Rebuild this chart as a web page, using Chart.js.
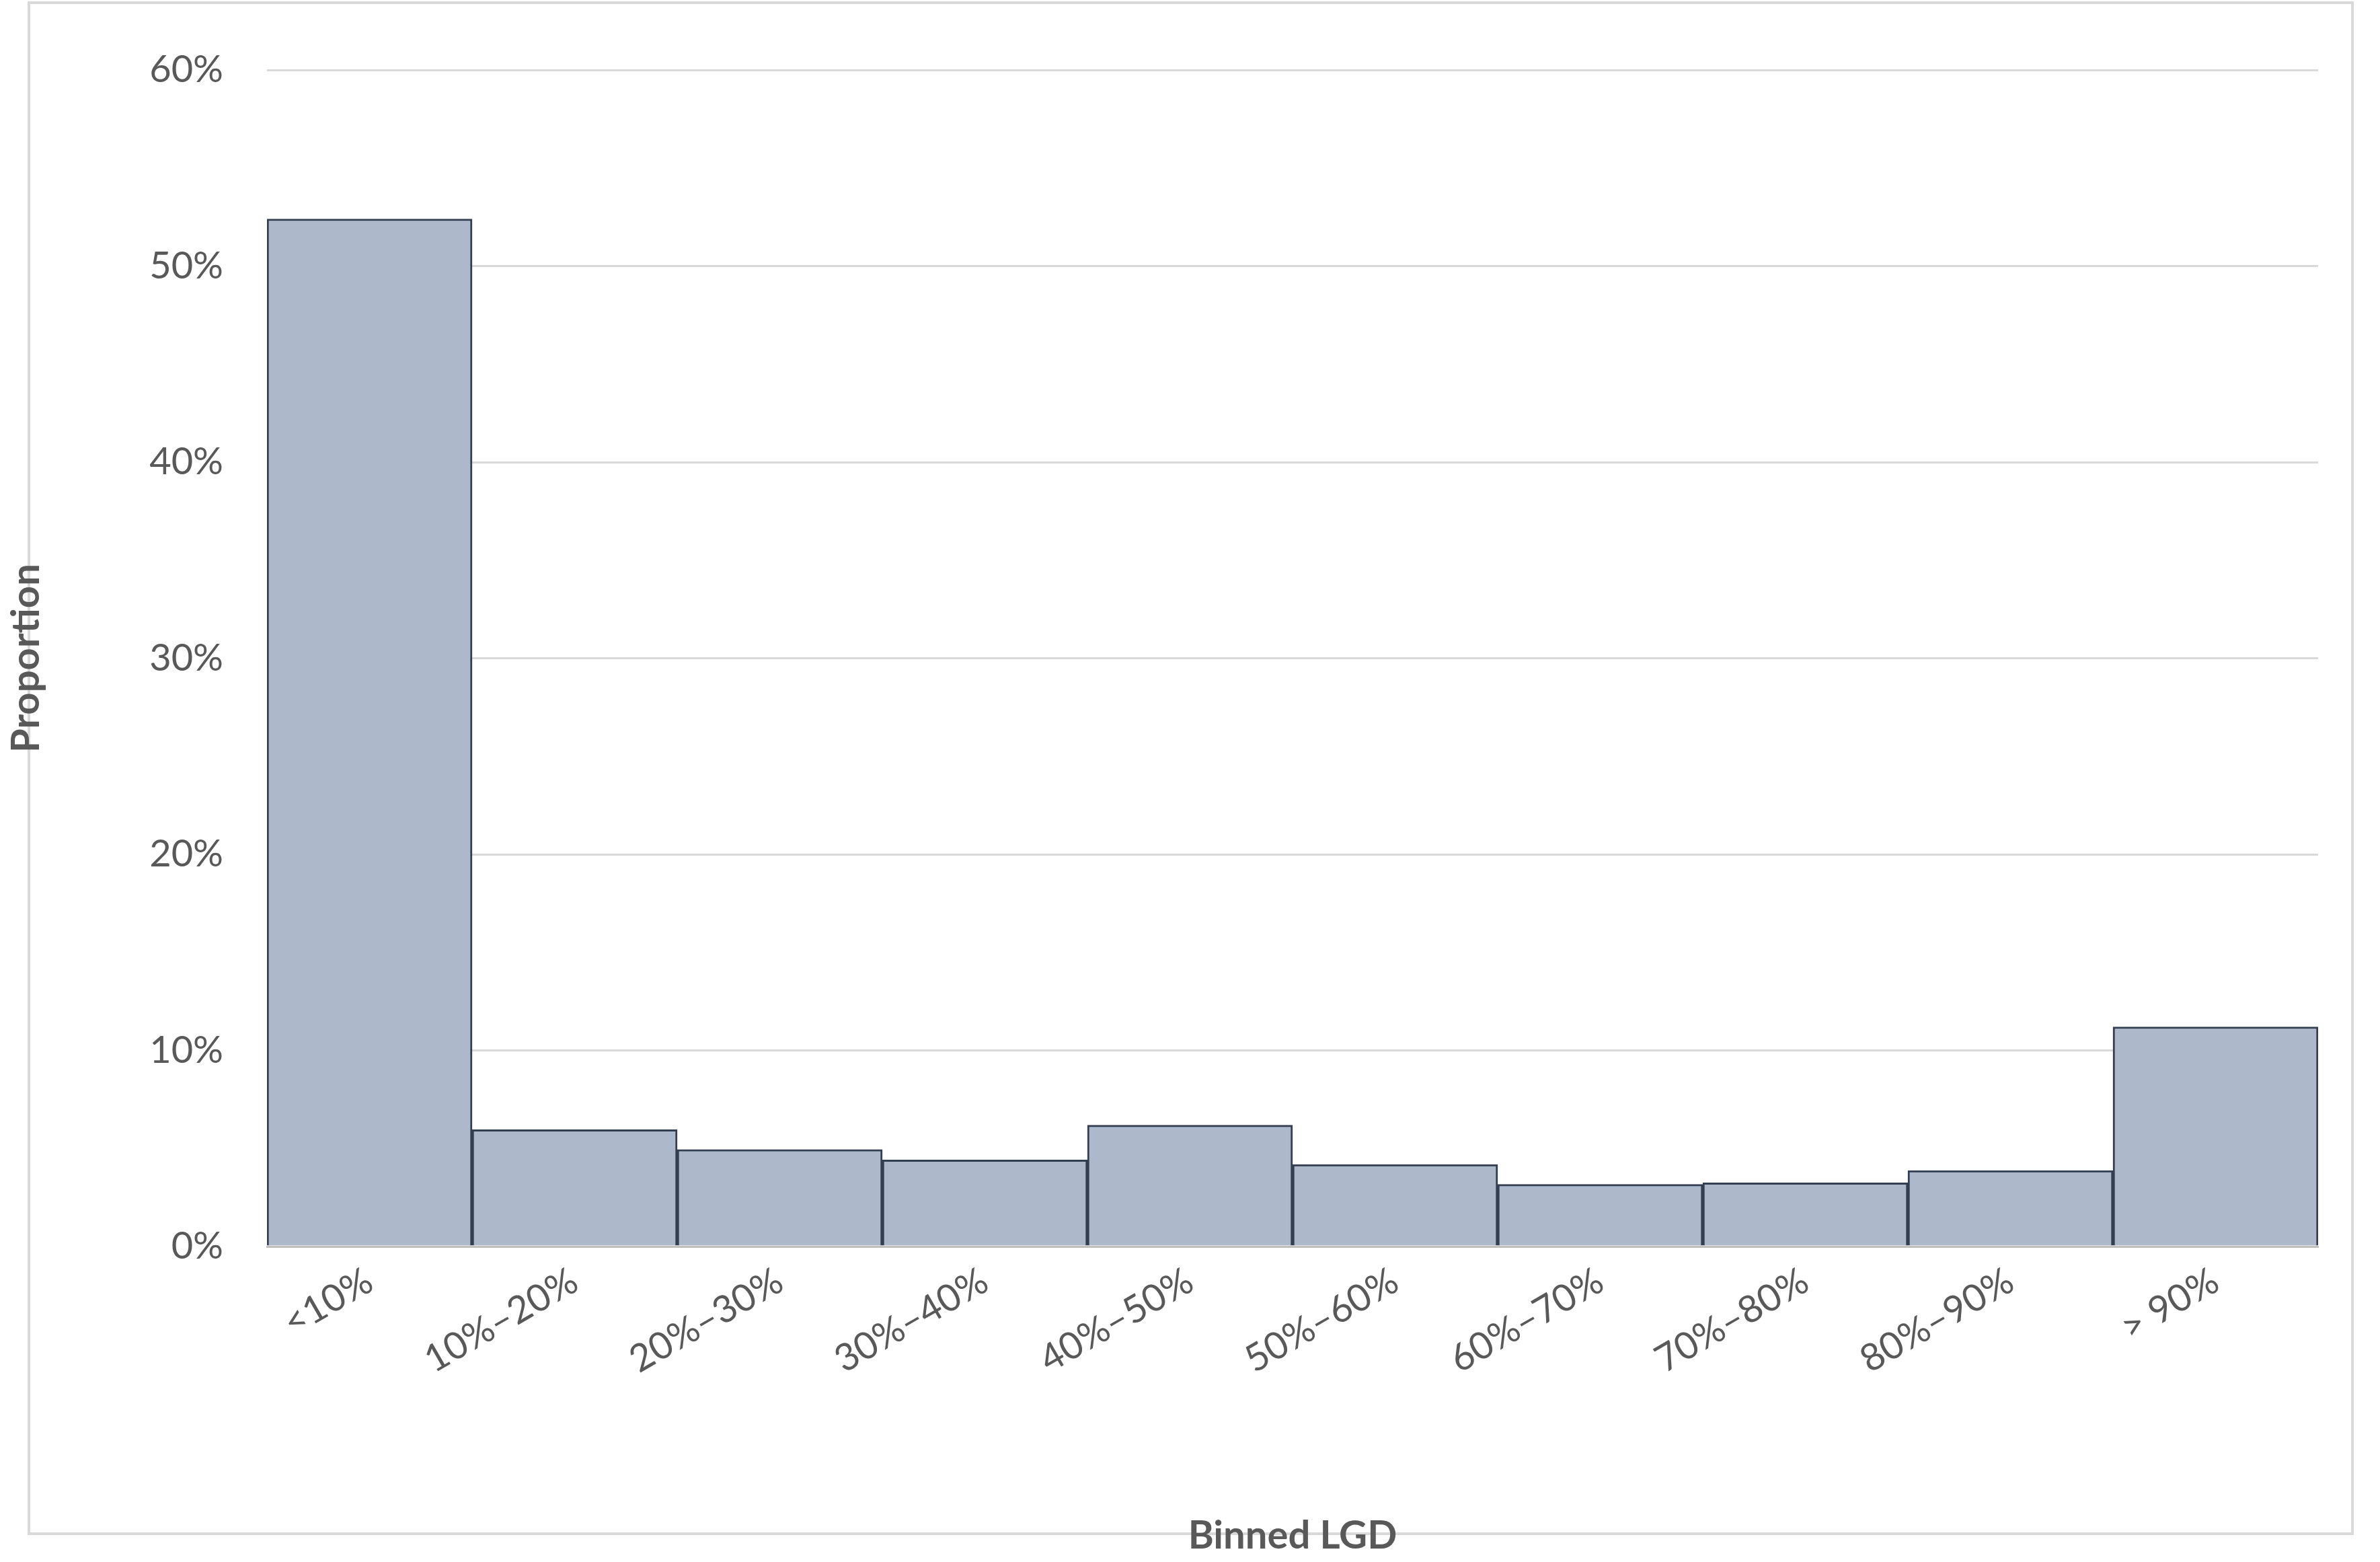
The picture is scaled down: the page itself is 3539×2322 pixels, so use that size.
<!DOCTYPE html>
<html><head><meta charset="utf-8">
<script src="https://cdn.jsdelivr.net/npm/chart.js@4/dist/chart.umd.min.js"></script>
<style>html,body{margin:0;padding:0;background:#fff}#w{position:absolute;left:0;top:0;width:3539px;height:2322px}</style>
</head><body><div id="w"><canvas id="c"></canvas></div>
<script>
const categories = ["<10%","10%–20%","20%–30%","30%–40%","40%–50%","50%–60%","60%–70%","70%–80%","80%–90%","> 90%"];
const proportions = [52.4, 5.96, 4.95, 4.41, 6.19, 4.18, 3.17, 3.25, 3.87, 11.2];
const yTicks = [0,10,20,30,40,50,60];
const FONT = "Lato, 'Open Sans', sans-serif";
const frame = {id:'frame', beforeDraw(ch){const c=ch.ctx;c.save();c.fillStyle='#fff';c.fillRect(0,0,ch.width,ch.height);c.strokeStyle='#d9d9d9';c.lineWidth=4;c.strokeRect(43,4,3455,2276);c.restore();}};
new Chart(document.getElementById('c'),{
  type:'bar',
  data:{labels:categories,datasets:[{data:proportions,backgroundColor:'#adb9ca',borderColor:'#333f50',borderWidth:3,barPercentage:1,categoryPercentage:1,borderSkipped:'bottom'}]},
  options:{responsive:true,maintainAspectRatio:false,animation:false,devicePixelRatio:1,
    layout:{padding:{top:104,right:92,left:0,bottom:0}},
    plugins:{legend:{display:false},tooltip:{enabled:false}},
    scales:{
      x:{grid:{display:false},border:{color:'#bfbfbf',width:3},
        ticks:{color:'#595959',font:{family:FONT,size:56},minRotation:30,maxRotation:30,padding:10},
        title:{display:true,text:'Binned LGD',color:'#595959',font:{family:FONT,size:58,weight:'bold'},padding:{top:0}},
        afterFit(s){s.height=469;}},
      y:{min:0,max:60,afterBuildTicks(s){s.ticks=yTicks.map(v=>({value:v}));},
        grid:{color:'#d9d9d9',lineWidth:3,drawTicks:false},border:{display:false},
        ticks:{color:'#595959',font:{family:FONT,size:56},padding:65,callback:v=>v+'%'},
        title:{display:true,text:'Proportion',color:'#595959',font:{family:FONT,size:58,weight:'bold'},padding:{bottom:40}},
        afterFit(s){s.width=397;}}
    }},
  plugins:[frame]
});
</script></body></html>
